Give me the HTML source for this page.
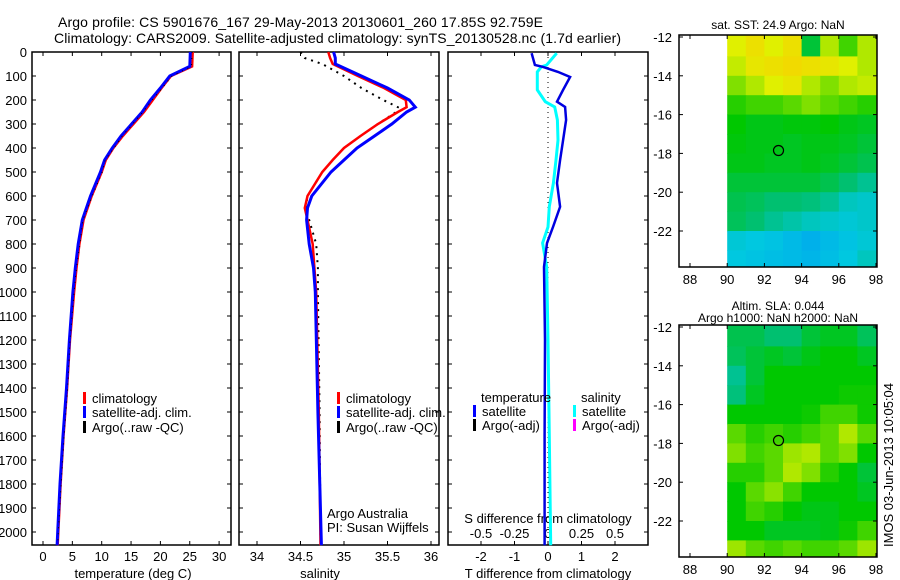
<!DOCTYPE html>
<html><head><meta charset="utf-8"><style>
body{margin:0;background:#fff}
svg{display:block;font-family:"Liberation Sans",sans-serif}
text{fill:#000}
</style></head><body>
<svg id="fig" width="900" height="580" viewBox="0 0 900 580" xmlns="http://www.w3.org/2000/svg">
<text x="58" y="27" font-size="14" textLength="485">Argo profile: CS 5901676_167 29-May-2013 20130601_260 17.85S 92.759E</text>
<text x="54" y="43" font-size="14" textLength="567">Climatology: CARS2009. Satellite-adjusted climatology: synTS_20130528.nc (1.7d earlier)</text>
<g id="g"></g>
</svg>
<script>
// ---- data ----
const depthT=[0,60,100,150,200,250,300,350,400,450,500,600,700,800,900,1000,1200,1400,1600,1800,2000,2055];
const tempClim=[25.5,25.4,21.8,20.2,18.7,17.2,15.4,13.6,12,10.7,10,8.3,6.9,6.2,5.7,5.3,4.6,4.1,3.5,3.0,2.6,2.5];
const tempSat=[25.1,25.0,21.6,20.0,18.3,16.9,15.1,13.3,11.8,10.5,9.8,8.1,6.7,6.0,5.5,5.1,4.5,4.0,3.4,2.9,2.5,2.4];
const tempArgo=[25.4,25.3,22.0,20.3,18.6,17.0,15.3,13.5,12.1,10.6,10.1,8.4,6.8,6.3,5.7,5.3,4.6,4.2,3.6,3.1,2.6,2.5];
const depthS=[0,25,50,100,150,200,230,250,300,350,400,450,500,600,650,700,800,900,1000,1500,2055];
const salClim=[34.82,34.84,34.87,35.16,35.46,35.71,35.72,35.62,35.39,35.19,35.0,34.87,34.75,34.58,34.55,34.58,34.64,34.66,34.68,34.71,34.73];
const salSat=[34.88,34.9,34.9,35.2,35.5,35.75,35.82,35.72,35.55,35.35,35.15,35.0,34.85,34.63,34.58,34.57,34.6,34.65,34.67,34.7,34.74];
const salArgo=[34.5,34.55,34.75,35.0,35.2,35.45,35.62,35.6,35.39,35.19,35.0,34.87,34.75,34.58,34.56,34.6,34.68,34.7,34.7,34.72,34.73];
const depthD=[5,54,62,83,104,158,207,229,283,367,450,546,645,729,796,896,1200,1600,2055];
const tDiff=[-0.49,-0.39,-0.15,0.30,0.66,0.45,0.27,0.51,0.54,0.45,0.36,0.27,0.36,0.15,-0.03,-0.12,-0.09,-0.1,-0.1];
const sDiff=[0.065,-0.01,-0.05,-0.08,-0.08,-0.08,-0.02,0.05,0.07,0.075,0.06,0.04,0.01,0,-0.04,-0.01,0,0.01,0.02];
const depthTicks=[0,100,200,300,400,500,600,700,800,900,1000,1100,1200,1300,1400,1500,1600,1700,1800,1900,2000];
const tTicks=[0,5,10,15,20,25,30];
const sTicks=[34,34.5,35,35.5,36];
const tdTicks=[-2,-1,0,1,2];
const sdTicks=[-0.5,-0.25,0,0.25,0.5];
const sdTickLabels=["-0.5","-0.25","0","0.25","0.5"];
const lonTicks=[88,90,92,94,96,98];
const latTicks=[-12,-14,-16,-18,-20,-22];
const mapLons=[90,91,92,93,94,95,96,97];
const mapLats=[-12,-13,-14,-15,-16,-17,-18,-19,-20,-21,-22,-23];
const sstGrid=[
[0.75,0.8,0.75,0.8,0.5,0.7,0.6,0.7],
[0.72,0.78,0.8,0.82,0.8,0.78,0.75,0.7],
[0.65,0.7,0.75,0.78,0.7,0.65,0.7,0.72],
[0.58,0.6,0.6,0.62,0.65,0.62,0.6,0.58],
[0.55,0.53,0.53,0.54,0.54,0.55,0.53,0.52],
[0.54,0.53,0.53,0.52,0.53,0.53,0.52,0.5],
[0.53,0.53,0.52,0.52,0.53,0.52,0.5,0.48],
[0.5,0.5,0.5,0.5,0.5,0.48,0.45,0.42],
[0.48,0.47,0.45,0.45,0.44,0.42,0.38,0.37],
[0.47,0.45,0.42,0.4,0.38,0.37,0.36,0.37],
[0.36,0.35,0.34,0.32,0.3,0.32,0.34,0.36],
[0.35,0.34,0.33,0.32,0.31,0.33,0.35,0.38]];
const slaGrid=[
[0.48,0.48,0.45,0.45,0.5,0.52,0.52,0.47],
[0.47,0.5,0.52,0.5,0.53,0.55,0.55,0.52],
[0.42,0.5,0.55,0.55,0.55,0.55,0.55,0.55],
[0.44,0.52,0.55,0.55,0.55,0.55,0.56,0.56],
[0.55,0.55,0.55,0.55,0.56,0.6,0.6,0.56],
[0.62,0.58,0.6,0.58,0.6,0.62,0.7,0.62],
[0.65,0.6,0.62,0.68,0.7,0.62,0.65,0.55],
[0.58,0.58,0.62,0.7,0.65,0.58,0.55,0.5],
[0.55,0.62,0.66,0.6,0.55,0.55,0.55,0.52],
[0.55,0.6,0.58,0.55,0.53,0.53,0.55,0.55],
[0.55,0.55,0.52,0.52,0.52,0.53,0.56,0.6],
[0.68,0.62,0.6,0.62,0.6,0.6,0.62,0.68]];
const argoLon=92.759, argoLat=-17.85;

// ---- helpers ----
const NS="http://www.w3.org/2000/svg";
const G=document.getElementById('g');
function el(tag,attrs,parent){const e=document.createElementNS(NS,tag);for(const k in attrs)e.setAttribute(k,attrs[k]);(parent||G).appendChild(e);return e;}
function txt(x,y,s,size,anchor,parent){const t=el('text',{x:x,y:y,'font-size':size||13,'text-anchor':anchor||'start'},parent);t.textContent=s;return t;}
const TOP=52,BOT=545;
const yD=d=>TOP+d*0.24;
const xT=v=>43+v*5.87;
const xS=v=>257+(v-34)*87;
const xTD=v=>548+v*33.5;
const xSD=v=>548+v*134;

function panel(x0,x1,name){
  const r=el('rect',{x:x0,y:TOP,width:x1-x0,height:BOT-TOP,fill:'none',stroke:'#000','stroke-width':1.5});
  
  
  depthTicks.forEach(d=>{el('line',{x1:x0,x2:x0+4,y1:yD(d),y2:yD(d),stroke:'#000'});el('line',{x1:x1-4,x2:x1,y1:yD(d),y2:yD(d),stroke:'#000'});});
}
function line(xs,ds,fx,color,w,name){
  const pts=xs.map((v,i)=>fx(v).toFixed(1)+','+yD(ds[i]).toFixed(1)).join(' ');
  const p=el('polyline',{points:pts,fill:'none',stroke:color,'stroke-width':w});
  
  
  return p;
}
function legendEntry(x,y,color,label,name){
  const g=el('g',{});
  
  
  el('rect',{x:x,y:y-11,width:3,height:12,fill:color},g);
  txt(x+9,y,label,13,'start',g);
}

// ---- panel 1: temperature ----
panel(32,231,'temperature-axes');
depthTicks.forEach(d=>{const t=txt(27,yD(d)+5,String(d),13,'end');});
tTicks.forEach(v=>{el('line',{x1:xT(v),x2:xT(v),y1:TOP,y2:TOP+4,stroke:'#000'});el('line',{x1:xT(v),x2:xT(v),y1:BOT-4,y2:BOT,stroke:'#000'});txt(xT(v),561,String(v),13,'middle');});
txt(133,578,'temperature (deg C)',13,'middle');
line(tempClim,depthT,xT,'#f00',2.5,'temp-climatology-line');
line(tempSat,depthT,xT,'#00f',3,'temp-satellite-line');
line(tempArgo,depthT,xT,'#000',1,'temp-argo-line').setAttribute('stroke-dasharray','1 5');
legendEntry(83,403,'#f00','climatology','legend-climatology');
legendEntry(83,417,'#00f','satellite-adj. clim.','legend-satellite');
legendEntry(83,432,'#000','Argo(..raw -QC)','legend-argo');

// ---- panel 2: salinity ----
panel(239,439,'salinity-axes');
sTicks.forEach(v=>{el('line',{x1:xS(v),x2:xS(v),y1:TOP,y2:TOP+4,stroke:'#000'});el('line',{x1:xS(v),x2:xS(v),y1:BOT-4,y2:BOT,stroke:'#000'});txt(xS(v),561,String(v),13,'middle');});
txt(320,578,'salinity',13,'middle');
line(salArgo,depthS,xS,'#000',2,'sal-argo-line').setAttribute('stroke-dasharray','2 5');
line(salClim,depthS,xS,'#f00',2.5,'sal-climatology-line');
line(salSat,depthS,xS,'#00f',3,'sal-satellite-line');
legendEntry(337,403,'#f00','climatology','legend-climatology-2');
legendEntry(337,417,'#00f','satellite-adj. clim.','legend-satellite-2');
legendEntry(337,432,'#000','Argo(..raw -QC)','legend-argo-2');
txt(327,518,'Argo Australia',13);
txt(327,532,'PI: Susan Wijffels',13);

// ---- panel 3: differences ----
panel(448,648,'difference-axes');
el('line',{x1:548,x2:548,y1:TOP,y2:BOT,stroke:'#000','stroke-dasharray':'1 4'});
tdTicks.forEach(v=>{el('line',{x1:xTD(v),x2:xTD(v),y1:TOP,y2:TOP+4,stroke:'#000'});el('line',{x1:xTD(v),x2:xTD(v),y1:BOT-4,y2:BOT,stroke:'#000'});txt(xTD(v),561,String(v),13,'middle');});
sdTicks.forEach((v,i)=>{txt(xSD(v),538,sdTickLabels[i],13,'middle');});
txt(548,523,'S difference from climatology',13,'middle');
txt(548,578,'T difference from climatology',13,'middle');
line(sDiff,depthD,xSD,'#0ff',3,'s-diff-satellite-line');
line(tDiff,depthD,xTD,'#0000e0',2.5,'t-diff-satellite-line');
txt(481,402,'temperature',13);
txt(581,402,'salinity',13);
legendEntry(473,416,'#00f','satellite','legend-t-satellite');
legendEntry(473,430,'#000','Argo(-adj)','legend-t-argo');
legendEntry(573,416,'#0ff','satellite','legend-s-satellite');
legendEntry(573,430,'#f0f','Argo(-adj)','legend-s-argo');

// ---- maps ----
const stops=[[0,[0,0,140]],[0.2,[0,128,255]],[0.35,[0,200,224]],[0.45,[0,192,112]],[0.55,[0,200,0]],[0.65,[128,224,0]],[0.75,[224,240,0]],[0.85,[248,208,0]],[1,[255,128,0]]];
function cmap(v){for(let i=1;i<stops.length;i++){if(v<=stops[i][0]){const a=stops[i-1],b=stops[i],f=(v-a[0])/(b[0]-a[0]);const c=a[1].map((x,k)=>Math.round(x+(b[1][k]-x)*f));return 'rgb('+c.join(',')+')';}}return 'rgb(255,128,0)';}
function map(top,grid,name,title1,title2){
  const x0=679,x1=877,y1=top+232;
  const xL=lon=>690+(lon-88)*18.6;
  const yL=lat=>top+2+(-12-lat)*19.4;
  const clipId='clip'+top;
  const cp=el('clipPath',{id:clipId});el('rect',{x:x0,y:top,width:x1-x0,height:y1-top},cp);
  const cg=el('g',{'clip-path':'url(#'+clipId+')'});
  
  
  grid.forEach((row,r)=>row.forEach((v,c)=>{
    const lat=mapLats[r],lon=mapLons[c];
    const top2=r===0?yL(lat+0.2):yL(lat);
    const cell=el('rect',{x:xL(lon),y:top2,width:xL(lon+1)-xL(lon)+0.5,height:yL(lat-1)-top2+0.5,fill:cmap(v)},cg);
    
    
  }));
  const fr=el('rect',{x:x0,y:top,width:x1-x0,height:y1-top,fill:'none',stroke:'#000','stroke-width':1.5});
  
  
  lonTicks.forEach(l=>{el('line',{x1:xL(l),x2:xL(l),y1:top,y2:top+4,stroke:'#000'});el('line',{x1:xL(l),x2:xL(l),y1:y1-4,y2:y1,stroke:'#000'});txt(xL(l),y1+17,String(l),13,'middle');});
  latTicks.forEach(l=>{el('line',{x1:x0,x2:x0+4,y1:yL(l),y2:yL(l),stroke:'#000'});el('line',{x1:x1-4,x2:x1,y1:yL(l),y2:yL(l),stroke:'#000'});txt(672,yL(l)+5,String(l),13,'end');});
  const c=el('circle',{cx:xL(argoLon),cy:yL(argoLat),r:5,fill:'none',stroke:'#000','stroke-width':1.2});
  
  
  if(title2){txt(778,top-15,title1,12,'middle');txt(778,top-3,title2,12,'middle');}
  else txt(778,top-6,title1,12,'middle');
}
map(35,sstGrid,'sst-map','sat. SST: 24.9 Argo: NaN');
map(325,slaGrid,'sla-map','Altim. SLA: 0.044','Argo h1000: NaN h2000: NaN');
const stamp=txt(0,0,'IMOS 03-Jun-2013 10:05:04',13,'middle');
stamp.setAttribute('transform','translate(893,465) rotate(-90)');


</script>
</body></html>
